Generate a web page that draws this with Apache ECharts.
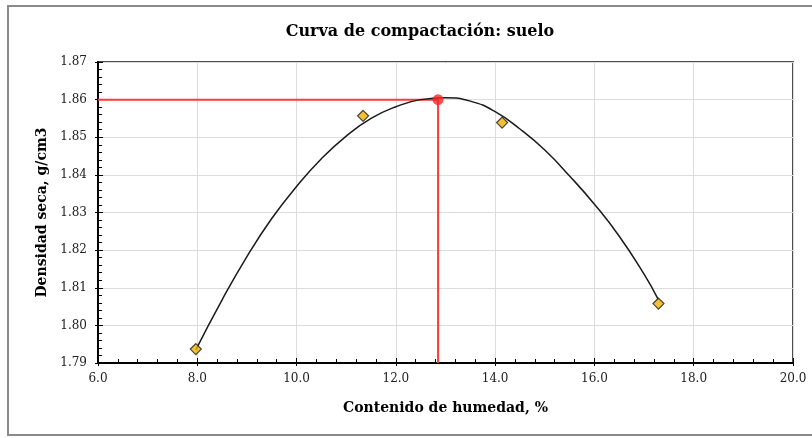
<!DOCTYPE html>
<html>
<head>
<meta charset="utf-8">
<script src="https://cdn.jsdelivr.net/npm/echarts@6/dist/echarts.min.js"></script>
<style>
html,body{margin:0;padding:0;background:#fff;}
#chart{width:812px;height:438px;}
</style>
</head>
<body>
<div id="chart"></div>
<script>
// Measured points (moisture %, dry density g/cm3)
const moisture = [7.97, 11.34, 14.14, 17.29];
const density = [1.7937, 1.8557, 1.8539, 1.8058];
// Optimum point
const optMoisture = 12.85;
const maxDensity = 1.860;
// Trend curve
const curveX = [7.97, 8.5, 9.0, 9.5, 10.0, 10.5, 11.0, 11.5, 12.0, 12.5, 13.0, 13.5, 14.0, 14.5, 15.0, 15.5, 16.0, 16.5, 17.0, 17.29];
const curveY = [1.7935, 1.8068, 1.8183, 1.8284, 1.8369, 1.8443, 1.8503, 1.8550, 1.8581, 1.8600, 1.8605, 1.8596, 1.8568, 1.8522, 1.8466, 1.8397, 1.8322, 1.8237, 1.8136, 1.8068];
// Axis ranges
const xRange = [6, 20, 2];
const yRange = [1.79, 1.87, 0.01];

const titleText = 'Curva de compactación: suelo';
const xName = 'Contenido de humedad, %';
const yName = 'Densidad seca, g/cm3';

const serif = 'DejaVu Serif';
const chart = echarts.init(document.getElementById('chart'), null, {renderer: 'canvas'});

const zip = (a, b) => a.map((v, i) => [v, b[i]]);

const option = {
  backgroundColor: '#ffffff',
  animation: false,
  title: {
    text: titleText,
    left: 415,
    top: 19,
    textAlign: 'center',
    textStyle: {fontFamily: serif, fontWeight: 'bold', fontSize: 16, color: '#000'}
  },
  graphic: [{
    type: 'rect',
    shape: {x: 8, y: 6, width: 840, height: 429},
    style: {fill: 'none', stroke: '#8a8a8a', lineWidth: 2},
    silent: true
  }],
  grid: {
    left: 98, right: 19, top: 62, bottom: 75,
    show: true, borderColor: '#4d4d4d', borderWidth: 2, backgroundColor: 'transparent'
  },
  xAxis: [{
    type: 'value', min: xRange[0], max: xRange[1], interval: xRange[2],
    name: xName, nameLocation: 'middle', nameGap: 38,
    nameTextStyle: {fontFamily: serif, fontWeight: 'bold', fontSize: 14, color: '#000'},
    axisLine: {show: true, onZero: false, lineStyle: {color: '#000', width: 2}},
    axisTick: {show: true, inside: true, length: 5, lineStyle: {color: '#000'}},
    minorTick: {show: true, splitNumber: 5, length: 4, lineStyle: {color: '#000'}},
    axisLabel: {fontFamily: serif, fontSize: 12, color: '#222', margin: 10, formatter: v => v.toFixed(1)},
    splitLine: {show: true, lineStyle: {color: '#dcdcdc', width: 1}}
  }, {
    type: 'value', min: xRange[0], max: xRange[1], interval: xRange[2], position: 'bottom',
    axisLine: {show: false}, axisLabel: {show: false}, splitLine: {show: false},
    axisTick: {show: true, inside: false, length: 3, lineStyle: {color: '#000'}}
  }],
  yAxis: [{
    type: 'value', min: yRange[0], max: yRange[1], interval: yRange[2],
    name: yName, nameLocation: 'middle', nameGap: 44, nameRotate: 90,
    nameTextStyle: {fontFamily: serif, fontWeight: 'bold', fontSize: 14, color: '#000'},
    axisLine: {show: true, onZero: false, lineStyle: {color: '#000', width: 2}},
    axisTick: {show: true, inside: true, length: 5, lineStyle: {color: '#000'}},
    minorTick: {show: true, splitNumber: 5, length: 4, lineStyle: {color: '#000'}},
    axisLabel: {fontFamily: serif, fontSize: 12, color: '#222', margin: 11, formatter: v => v.toFixed(2)},
    splitLine: {show: true, lineStyle: {color: '#dcdcdc', width: 1}}
  }, {
    type: 'value', min: yRange[0], max: yRange[1], interval: yRange[2], position: 'left',
    axisLine: {show: false}, axisLabel: {show: false}, splitLine: {show: false},
    axisTick: {show: true, inside: false, length: 3, lineStyle: {color: '#000'}}
  }],
  series: [
    {
      name: 'guia', type: 'line', z: 3,
      data: [[xRange[0], maxDensity], [optMoisture, maxDensity], [optMoisture, yRange[0]]],
      symbol: 'none', lineStyle: {color: '#ff3b3b', width: 2}, silent: true
    },
    {
      name: 'curva', type: 'line', z: 4,
      data: zip(curveX, curveY), smooth: true, symbol: 'none',
      lineStyle: {color: '#1a1a1a', width: 1.5}
    },
    {
      name: 'ensayos', type: 'scatter', z: 5,
      data: zip(moisture, density), symbol: 'diamond', symbolSize: [11, 11],
      itemStyle: {color: '#f0b000', borderColor: '#1a1a1a', borderWidth: 1.2}
    },
    {
      name: 'optimo', type: 'scatter', z: 6,
      data: [[optMoisture, maxDensity]], symbol: 'circle', symbolSize: 11,
      itemStyle: {color: '#ff2424'}
    }
  ]
};
chart.setOption(option);
</script>
</body>
</html>
